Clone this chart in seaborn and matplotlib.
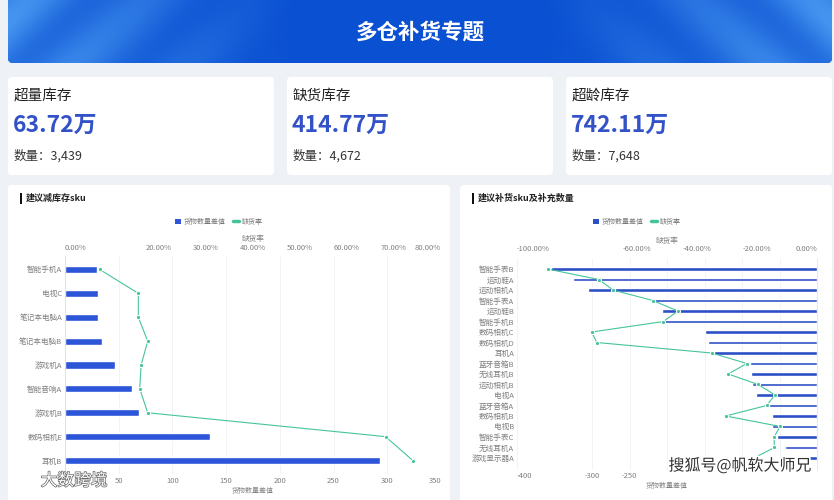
import numpy as np
import pandas as pd
import seaborn as sns
import matplotlib.pyplot as plt
import matplotlib.patheffects as pe
from matplotlib.patches import FancyBboxPatch, Rectangle, Patch
from matplotlib.lines import Line2D

sns.set_theme(style="white")
plt.rcParams['font.family'] = ['Noto Sans CJK SC', 'DejaVu Sans']

# 数据
kpi_names = ["超量库存", "缺货库存", "超龄库存"]
kpi_values = ["63.72万", "414.77万", "742.11万"]
kpi_counts = ["3,439", "4,672", "7,648"]

reduce_sku = ["智能手机A", "电视C", "笔记本电脑A", "笔记本电脑B", "游戏机A",
              "智能音响A", "游戏机B", "数码相机E", "耳机B"]
reduce_diff = [30, 30.5, 30.5, 34.5, 47, 62, 69, 135, 293]
reduce_rate = [0.074, 0.156, 0.156, 0.176, 0.162, 0.159, 0.176, 0.682, 0.74]
reduce_ticks = [0, 50, 100, 150, 200, 250, 300, 350]
reduce_tick_labels = ["", "50", "100", "150", "200", "250", "300", "350"]  # 0 被水印盖住

refill_sku = ["智能手表B", "运动鞋A", "运动相机A", "智能手表A", "运动鞋B", "智能手机B",
              "数码相机C", "数码相机D", "耳机A", "蓝牙音箱B", "无线耳机B", "运动相机B",
              "电视A", "蓝牙音箱A", "数码相机B", "电视B", "智能手表C", "无线耳机A",
              "游戏显示器A"]
refill_diff = [-355, -326, -305, -222, -207, -209, -149, -146, -138, -90, -88, -87,
               -82, -64, -60, -60, -54, -43, -18]
refill_rate = [-0.898, -0.727, -0.68, -0.547, -0.464, -0.512, -0.751, -0.734, -0.351,
               -0.234, -0.296, -0.196, -0.14, -0.168, -0.304, -0.123, -0.143, -0.142, -0.21]
refill_ticks = [-400, -300, -250, -200, -150, -100, -50, 0]
refill_tick_labels = ["-400", "-300", "-250", "", "", "", "", ""]  # 其余被水印盖住

W, H = 834, 500
BLUE = "#2d55d8"
GREEN = "#45c49c"
GRAY = "#808080"


def rect(x0, y0, x1, y1):
    return [x0 / W, 1 - y1 / H, (x1 - x0) / W, (y1 - y0) / H]


fig = plt.figure(figsize=(8.34, 5.0), dpi=100)
fig.patch.set_facecolor("#eef1f6")

bg = fig.add_axes([0, 0, 1, 1])
bg.set_xlim(0, W)
bg.set_ylim(H, 0)
bg.axis("off")

# 顶部横幅
banner = FancyBboxPatch((8, -6), 824, 69, boxstyle="round,pad=0,rounding_size=5",
                        fc="#0b52d4", ec="none")
bg.add_patch(banner)
gx, gy = np.meshgrid(np.linspace(-1, 1, 420), np.linspace(0, 1, 64))
edge = np.clip((np.abs(gx) - 0.3) / 0.7, 0, 1)
stripe = 0.5 + 0.5 * np.sin((np.abs(gx) * 7 - gy * 1.3) * np.pi)
w = edge * (0.45 + 0.55 * stripe)
dark = np.array([0x0a, 0x50, 0xd2]) / 255
light = np.array([0x45, 0x95, 0xf0]) / 255
img = dark * (1 - w[..., None]) + light * w[..., None]
im = bg.imshow(img, extent=(8, 832, 63, -6), aspect="auto", zorder=1)
im.set_clip_path(banner)
bg.set_xlim(0, W)
bg.set_ylim(H, 0)
bg.text(420, 32, "多仓补货专题", color="white", fontsize=15.5, fontweight="heavy",
        ha="center", va="center", zorder=3)

# 指标卡片
for i, x0 in enumerate([8, 287, 566]):
    bg.add_patch(FancyBboxPatch((x0, 77), 266, 98, boxstyle="round,pad=0,rounding_size=4",
                                fc="white", ec="none"))
    bg.text(x0 + 6, 96, kpi_names[i], fontsize=10.5, color="#222222", va="center",
            fontweight="medium")
    bg.text(x0 + 5, 125, kpi_values[i], fontsize=16.5, color="#3352c8", va="center",
            fontweight="bold")
    bg.text(x0 + 6, 156, "数量：" + kpi_counts[i], fontsize=9, color="#333333", va="center")

# 图表面板
for x0, wd, title in [(8, 442, "建议减库存sku"), (460, 372, "建议补货sku及补充数量")]:
    bg.add_patch(FancyBboxPatch((x0, 185), wd, 330, boxstyle="round,pad=0,rounding_size=4",
                                fc="white", ec="none"))
    bg.add_patch(Rectangle((x0 + 12, 193), 1.6, 11, fc="#111111", ec="none"))
    bg.text(x0 + 18, 198.5, title, fontsize=6.5, fontweight="bold", color="#222222",
            va="center")


def pct(v):
    return f"{v * 100:.2f}%"


def draw_chart(box, skus, diffs, rates, xlim, xticks, xlabels, rlim, rticks,
               legend_x, color, bar_w):
    ax = fig.add_axes(rect(*box))
    ax.set_facecolor("none")
    df = pd.DataFrame({"sku": skus, "diff": diffs})
    sns.barplot(data=df, x="diff", y="sku", orient="h", color=color, width=bar_w,
                saturation=1, ax=ax, zorder=2)
    ax.set_xlim(*xlim)
    ax.set_xticks(xticks)
    ax.set_xticklabels(xlabels)
    ax.set_xlabel("货物数量差值", fontsize=5, color=GRAY, labelpad=1.5)
    ax.set_ylabel("")
    ax.tick_params(axis="both", length=0, labelsize=5.5, labelcolor=GRAY, pad=2)
    ax.xaxis.grid(True, color="#f1f1f1", lw=0.6, zorder=0)
    for s in ax.spines.values():
        s.set_visible(False)

    ax2 = ax.twiny()
    ax2.set_facecolor("none")
    ax2.plot(rates, np.arange(len(skus)), color=GREEN, lw=0.8, marker="o",
             ms=3, mfc=GREEN, mec="white", mew=0.7, zorder=4)
    ax2.set_xlim(*rlim)
    ax2.set_xticks(rticks)
    ax2.set_xticklabels([pct(t) for t in rticks])
    ax2.set_xlabel("缺货率", fontsize=5.5, color=GRAY, labelpad=2)
    ax2.tick_params(axis="x", length=0, labelsize=5.5, labelcolor=GRAY, pad=3)
    for s in ax2.spines.values():
        s.set_visible(False)
    tl = ax2.get_xticklabels()
    tl[0].set_ha("left")
    tl[-1].set_ha("right")

    handles = [Patch(fc=color, ec="none"),
               Line2D([], [], color=GREEN, lw=2.5, solid_capstyle="round")]
    fig.legend(handles, ["货物数量差值", "缺货率"], loc="center",
               bbox_to_anchor=(legend_x / W, 1 - 222 / H), ncol=2, frameon=False,
               fontsize=5, labelcolor="#777777", handlelength=0.9, handleheight=0.9,
               handletextpad=0.4, columnspacing=1.0)
    return ax, ax2


axl, axl2 = draw_chart((65, 256, 441, 474), reduce_sku, reduce_diff, reduce_rate,
                       (0, 350), reduce_ticks, reduce_tick_labels,
                       (0, 0.8), [0, 0.2, 0.3, 0.4, 0.5, 0.6, 0.7, 0.8], 219, BLUE, 0.3)
axl.spines["left"].set_visible(True)
axl.spines["left"].set_color("#dddddd")
axl.spines["left"].set_linewidth(0.6)
axl.get_xticklabels()[-1].set_ha("right")

axr, axr2 = draw_chart((517, 257.5, 817, 469.5), refill_sku, refill_diff, refill_rate,
                       (-400, 0), refill_ticks, refill_tick_labels,
                       (-1, 0), [-1, -0.6, -0.4, -0.2, 0], 637, "#2b4fc6", 0.36)
axr.spines["right"].set_visible(True)
axr.spines["right"].set_color("#e4e4e4")
axr.spines["right"].set_linewidth(0.6)
axr.get_xticklabels()[0].set_ha("left")

# 水印
wm = fig.add_axes([0, 0, 1, 1])
wm.set_xlim(0, W)
wm.set_ylim(H, 0)
wm.axis("off")
wm.text(74, 481, "大数跨境", fontsize=12, color="white", ha="center", va="center",
        path_effects=[pe.withStroke(linewidth=1.0, foreground="#666666")])
wm.text(740, 466, "搜狐号@帆软大师兄", fontsize=11.5, color="#333333", ha="center",
        va="center", path_effects=[pe.withStroke(linewidth=2.5, foreground="white")])

fig.savefig("out.png", dpi=100)
